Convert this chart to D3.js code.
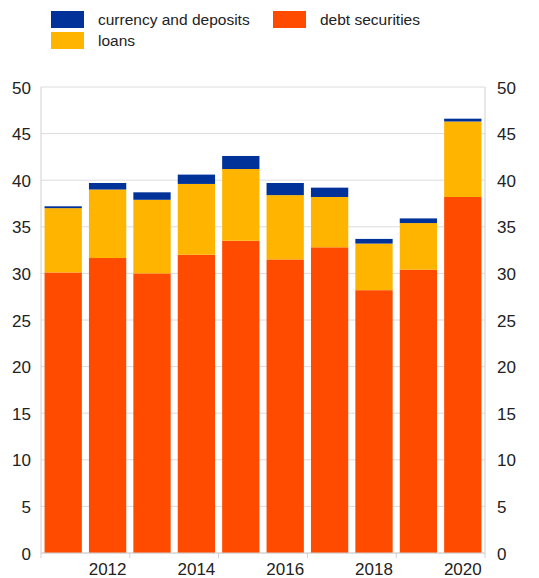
<!DOCTYPE html>
<html>
<head>
<meta charset="utf-8">
<script src="https://cdn.jsdelivr.net/npm/d3@7"></script>
<style>
  body { margin: 0; background: #fff; }
  text { font-family: "Liberation Sans", Arial, sans-serif; fill: #222; }
</style>
</head>
<body>
<div id="chart"></div>
<script>
// data (% of GDP)
var years = ["2011", "2012", "2013", "2014", "2015", "2016", "2017", "2018", "2019", "2020"];
var debtSecurities = [30.1, 31.65, 30.0, 32.0, 33.5, 31.5, 32.8, 28.2, 30.4, 38.2];
var loans = [6.9, 7.35, 7.9, 7.6, 7.7, 6.9, 5.4, 5.0, 5.0, 8.1];
var currencyDeposits = [0.2, 0.7, 0.8, 1.0, 1.4, 1.3, 1.0, 0.5, 0.5, 0.3];
var yTicks = [0, 5, 10, 15, 20, 25, 30, 35, 40, 45, 50];
var xLabels = ["2012", "2014", "2016", "2018", "2020"];

var seriesKeys = ["debt", "loans", "currency"];
var colors = { debt: "#ff4b00", loans: "#ffb400", currency: "#003299" };

function init() {
  var width = 539, height = 578;
  var left = 41, right = 485, top = 87, bottom = 553;

  var svg = d3.select("#chart").append("svg")
    .attr("width", width)
    .attr("height", height);

  var table = years.map(function(y, i) {
    return { year: y, debt: debtSecurities[i], loans: loans[i], currency: currencyDeposits[i] };
  });
  var stacked = d3.stack().keys(seriesKeys)(table);

  var x = d3.scaleBand().domain(years).range([left, right]).paddingInner(0.16).paddingOuter(0.08);
  var y = d3.scaleLinear().domain([0, 50]).range([bottom, top]);

  // gridlines
  svg.append("g")
    .selectAll("line")
    .data(yTicks)
    .enter().append("line")
    .attr("x1", left).attr("x2", right)
    .attr("y1", function(d) { return y(d); })
    .attr("y2", function(d) { return y(d); })
    .attr("stroke", "#dcdcdc")
    .attr("stroke-width", 1);

  // frame sides
  svg.append("line").attr("x1", left).attr("x2", left).attr("y1", top).attr("y2", bottom)
    .attr("stroke", "#d0d0d0");
  svg.append("line").attr("x1", right).attr("x2", right).attr("y1", top).attr("y2", bottom)
    .attr("stroke", "#d0d0d0");

  // bars
  svg.append("g")
    .selectAll("g")
    .data(stacked)
    .enter().append("g")
    .attr("fill", function(d) { return colors[d.key]; })
    .selectAll("rect")
    .data(function(d) { return d; })
    .enter().append("rect")
    .attr("x", function(d) { return x(d.data.year); })
    .attr("y", function(d) { return y(d[1]); })
    .attr("height", function(d) { return y(d[0]) - y(d[1]); })
    .attr("width", x.bandwidth());

  // left axis
  var yl = svg.append("g")
    .attr("transform", "translate(" + (left - 10) + ",0)")
    .call(d3.axisLeft(y).tickValues(yTicks).tickSize(0).tickPadding(0));
  yl.select(".domain").remove();
  yl.selectAll("text").style("font-size", "17px").attr("dy", "0.36em");

  // right axis
  var yr = svg.append("g")
    .attr("transform", "translate(" + (right + 12) + ",0)")
    .call(d3.axisRight(y).tickValues(yTicks).tickSize(0).tickPadding(0));
  yr.select(".domain").remove();
  yr.selectAll("text").style("font-size", "17px").attr("dy", "0.36em");

  // bottom axis: ticks between every two bars
  var step = x.step();
  var tickX = d3.range(0, 6).map(function(i) {
    return left + (x(years[0]) - left - step * x.paddingInner() / 2) + i * 2 * step;
  });
  svg.append("line").attr("x1", left).attr("x2", right).attr("y1", bottom).attr("y2", bottom)
    .attr("stroke", "#d0d0d0");
  svg.append("g").selectAll("line")
    .data(tickX)
    .enter().append("line")
    .attr("x1", function(d) { return d; })
    .attr("x2", function(d) { return d; })
    .attr("y1", bottom).attr("y2", bottom + 5)
    .attr("stroke", "#d0d0d0");

  svg.append("g").selectAll("text")
    .data(xLabels)
    .enter().append("text")
    .attr("x", function(d) { return x(d) + x.bandwidth() / 2; })
    .attr("y", bottom + 22)
    .attr("text-anchor", "middle")
    .style("font-size", "17px")
    .text(function(d) { return d; });

  // legend
  var legendItems = [
    { label: "currency and deposits", key: "currency", x: 51, y: 11 },
    { label: "debt securities", key: "debt", x: 273, y: 11 },
    { label: "loans", key: "loans", x: 51, y: 32 }
  ];
  var lg = svg.append("g").selectAll("g")
    .data(legendItems)
    .enter().append("g")
    .attr("transform", function(d) { return "translate(" + d.x + "," + d.y + ")"; });
  lg.append("rect")
    .attr("width", 33).attr("height", 17)
    .attr("fill", function(d) { return colors[d.key]; });
  lg.append("text")
    .attr("x", 47).attr("y", 14)
    .style("font-size", "15.5px")
    .text(function(d) { return d.label; });
}

window.onload = init;
</script>
</body>
</html>
